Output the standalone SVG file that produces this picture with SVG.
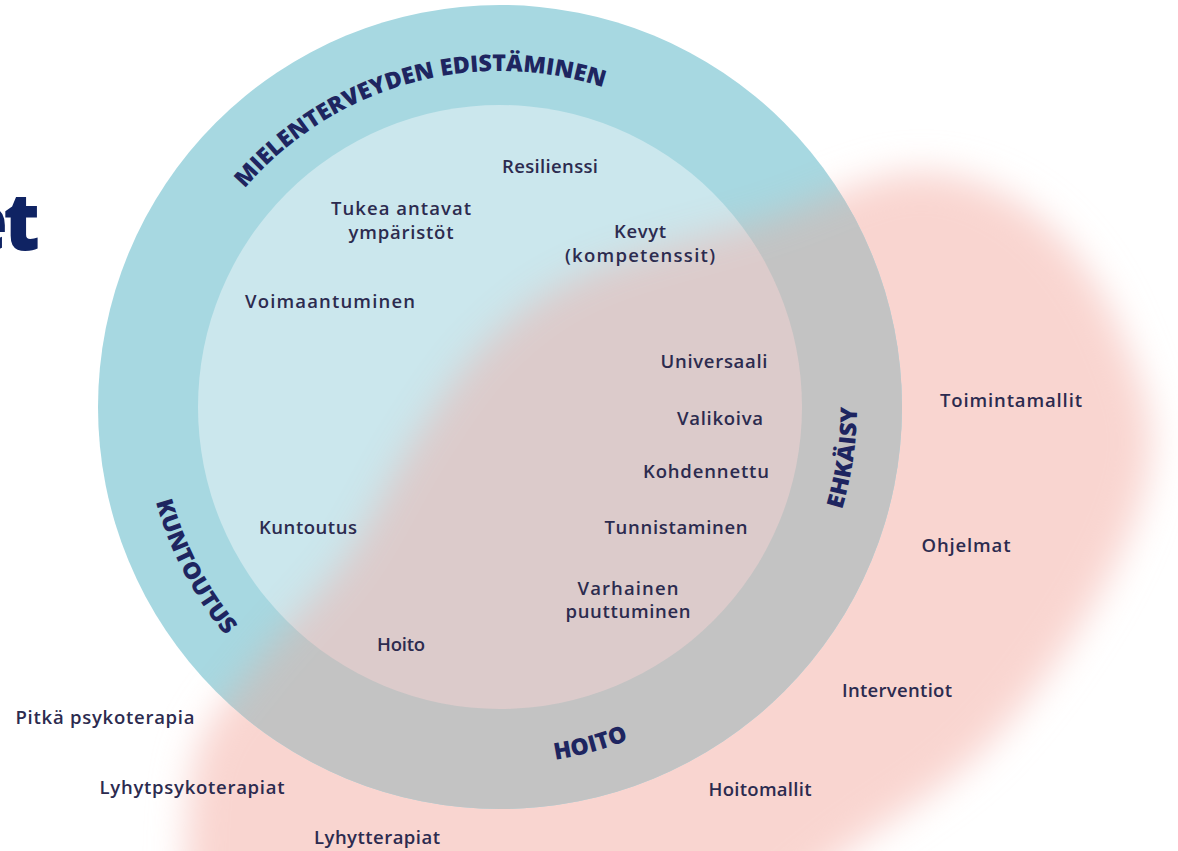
<svg xmlns="http://www.w3.org/2000/svg" width="1178" height="851" viewBox="0 0 1178 851">
<style>
.lbl{font-family:"Open Sans","Liberation Sans",sans-serif;font-size:18.5px;font-weight:600;fill:#2c2b4f;text-anchor:middle}
.out{font-family:"Open Sans","Liberation Sans",sans-serif;font-size:18.5px;font-weight:600;fill:#2c2b4f;text-anchor:middle}
.ring{font-family:"Open Sans","Liberation Sans",sans-serif;font-size:23px;font-weight:800;fill:#1e2560;text-anchor:middle}
.title{font-family:"Open Sans","Liberation Sans",sans-serif;font-size:80px;font-weight:800;fill:#0f2363}
</style>
<defs>
<filter id="soft" x="-30%" y="-30%" width="160%" height="160%"><feGaussianBlur stdDeviation="18"/></filter>
<path id="blob" d="M185 920 C186.7 893.3 183.3 802.5 195 760 C206.7 717.5 230 698.3 255 665 C280 631.7 318.3 597.5 345 560 C371.7 522.5 390.8 476.7 415 440 C439.2 403.3 460.8 368 490 340 C519.2 312 543.3 292.3 590 272 C636.7 251.7 715 235.7 770 218 C825 200.3 873.3 172 920 172 C963 172 1006 190 1040 218 C1074 246 1103 289 1120 330 C1137 371 1156 413 1150 460 C1144 507 1120 561 1090 610 C1060 659 1021 713 980 753 C938.7 793.2 883.7 823.2 847 851 C810.3 878.8 774.5 908.5 760 920 Z"/>
<mask id="pinkMask" maskUnits="userSpaceOnUse" x="0" y="0" width="1178" height="851">
<use href="#blob" fill="#fff" filter="url(#soft)"/>
</mask>
<path id="topArc" d="M164 407 A336 336 0 0 1 836 407"/>
<path id="ccwArc" d="M143 407 A357 357 0 0 0 857 407 A357 357 0 0 0 143 407"/>
</defs>
<rect width="1178" height="851" fill="#ffffff"/>
<g id="pink-area"><use href="#blob" fill="#f9d5d0" filter="url(#soft)"/></g>
<g id="circle">
<circle cx="500" cy="407" r="402" fill="#a7d8e1"/>
<circle cx="500" cy="407" r="302" fill="#cbe7ed"/>
<g mask="url(#pinkMask)">
<circle cx="500" cy="407" r="402" fill="#c3c3c3"/>
<circle cx="500" cy="407" r="302" fill="#dccbcb"/>
</g>
</g>
<g id="connectors"/>
<g id="title-fragment"><text class="title" x="35" y="250" text-anchor="end" letter-spacing="-5">et</text></g>
<g id="ring-labels">
<g id="ring-mielenterveyden"><text class="ring"><textPath href="#topArc" startOffset="435" textLength="395" lengthAdjust="spacingAndGlyphs">MIELENTERVEYDEN EDISTÄMINEN</textPath></text></g>
<g id="ring-kuntoutus"><text class="ring"><textPath href="#ccwArc" startOffset="172" textLength="152" lengthAdjust="spacingAndGlyphs">KUNTOUTUS</textPath></text></g>
<g id="ring-hoito"><text class="ring"><textPath href="#ccwArc" startOffset="654" textLength="76" lengthAdjust="spacingAndGlyphs">HOITO</textPath></text></g>
<g id="ring-ehkaisy"><text class="ring"><textPath href="#ccwArc" startOffset="1069" textLength="104" lengthAdjust="spacingAndGlyphs">EHKÄISY</textPath></text></g>
</g>
<g id="inner-labels">
<g id="n-resilienssi"><text class="lbl" x="550" y="173" textLength="96">Resilienssi</text></g>
<g id="n-tukea"><text class="lbl" x="401" y="215" textLength="140">Tukea antavat</text><text class="lbl" x="401" y="239" textLength="105">ympäristöt</text></g>
<g id="n-kevyt"><text class="lbl" x="640" y="238" textLength="52">Kevyt</text><text class="lbl" x="640" y="262" textLength="150">(kompetenssit)</text></g>
<g id="n-voimaantuminen"><text class="lbl" x="330" y="308" textLength="170">Voimaantuminen</text></g>
<g id="n-universaali"><text class="lbl" x="714" y="368" textLength="107">Universaali</text></g>
<g id="n-valikoiva"><text class="lbl" x="720" y="425" textLength="86">Valikoiva</text></g>
<g id="n-kohdennettu"><text class="lbl" x="706" y="478" textLength="126">Kohdennettu</text></g>
<g id="n-tunnistaminen"><text class="lbl" x="676" y="534" textLength="143">Tunnistaminen</text></g>
<g id="n-varhainen"><text class="lbl" x="628" y="595" textLength="101">Varhainen</text><text class="lbl" x="628" y="618" textLength="125">puuttuminen</text></g>
<g id="n-kuntoutus"><text class="lbl" x="308" y="534" textLength="98">Kuntoutus</text></g>
<g id="n-hoito"><text class="lbl" x="401" y="651" textLength="48">Hoito</text></g>
</g>
<g id="outer-labels">
<g id="n-toimintamallit"><text class="out" x="1011" y="407" textLength="142">Toimintamallit</text></g>
<g id="n-ohjelmat"><text class="out" x="966" y="552" textLength="89">Ohjelmat</text></g>
<g id="n-interventiot"><text class="out" x="897" y="697" textLength="110">Interventiot</text></g>
<g id="n-hoitomallit"><text class="out" x="760" y="796" textLength="103">Hoitomallit</text></g>
<g id="n-pitka"><text class="out" x="105" y="724" textLength="179">Pitkä psykoterapia</text></g>
<g id="n-lyhytpsyko"><text class="out" x="192" y="794" textLength="185">Lyhytpsykoterapiat</text></g>
<g id="n-lyhytterapiat"><text class="out" x="377" y="844" textLength="126">Lyhytterapiat</text></g>
</g>
</svg>
